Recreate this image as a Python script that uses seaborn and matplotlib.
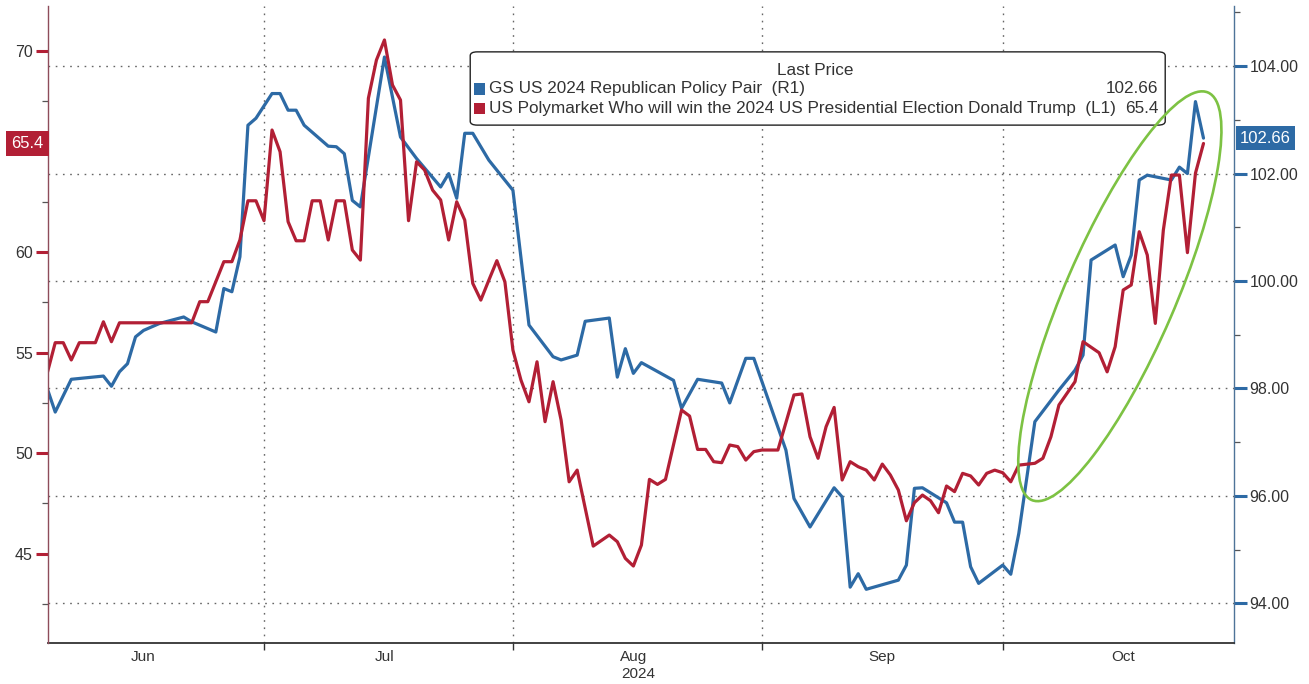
import numpy as np
import pandas as pd
import matplotlib
matplotlib.use("Agg")
import matplotlib.pyplot as plt
import matplotlib.dates as mdates
import matplotlib.transforms as mtransforms
from matplotlib.patches import Ellipse, FancyBboxPatch, Rectangle
import seaborn as sns

sns.set_theme(style="white")
plt.rcParams['font.family'] = ['Liberation Sans', 'DejaVu Sans']

# ---------------- data ----------------
gs_dates = ["06-04", "06-05", "06-07", "06-11", "06-12", "06-13", "06-14", "06-15", "06-16", "06-18",
            "06-21", "06-22", "06-25", "06-26", "06-27", "06-28", "06-29", "06-30", "07-02", "07-03",
            "07-04", "07-05", "07-06", "07-09", "07-10", "07-11", "07-12", "07-13", "07-16", "07-18",
            "07-20", "07-23", "07-24", "07-25", "07-26", "07-27", "07-29", "08-01", "08-03", "08-06",
            "08-07", "08-09", "08-10", "08-13", "08-14", "08-15", "08-16", "08-17", "08-21", "08-22",
            "08-24", "08-27", "08-28", "08-30", "08-31", "09-04", "09-05", "09-07", "09-10", "09-11",
            "09-12", "09-13", "09-14", "09-18", "09-19", "09-20", "09-21", "09-24", "09-25", "09-26",
            "09-27", "09-28", "10-01", "10-02", "10-03", "10-05", "10-08", "10-10", "10-11", "10-12",
            "10-15", "10-16", "10-17", "10-18", "10-19", "10-22", "10-23", "10-24", "10-25", "10-26"]
gs_values = [98.00, 97.56, 98.17, 98.23, 98.04, 98.31, 98.46, 98.96, 99.08, 99.21,
             99.33, 99.24, 99.05, 99.86, 99.80, 100.45, 102.90, 103.03, 103.49, 103.49,
             103.18, 103.18, 102.90, 102.51, 102.50, 102.37, 101.50, 101.38, 104.17, 102.68,
             102.28, 101.75, 102.00, 101.54, 102.75, 102.75, 102.25, 101.69, 99.18, 98.59,
             98.53, 98.62, 99.25, 99.31, 98.21, 98.74, 98.28, 98.48, 98.15, 97.63,
             98.17, 98.10, 97.73, 98.56, 98.56, 96.85, 95.95, 95.42, 96.15, 95.98,
             94.30, 94.55, 94.26, 94.43, 94.71, 96.14, 96.15, 95.87, 95.51, 95.51,
             94.68, 94.37, 94.71, 94.54, 95.30, 97.38, 97.97, 98.34, 98.62, 100.39,
             100.67, 100.08, 100.48, 101.88, 101.97, 101.88, 102.12, 102.00, 103.34, 102.66]

poly_dates = ["06-04", "06-05", "06-06", "06-07", "06-08", "06-10", "06-11", "06-12", "06-13", "06-22",
              "06-23", "06-24", "06-26", "06-27", "06-28", "06-29", "06-30", "07-01", "07-02", "07-03",
              "07-04", "07-05", "07-06", "07-07", "07-08", "07-09", "07-10", "07-11", "07-12", "07-13",
              "07-14", "07-15", "07-16", "07-17", "07-18", "07-19", "07-20", "07-21", "07-22", "07-23",
              "07-24", "07-25", "07-26", "07-27", "07-28", "07-29", "07-30", "07-31", "08-01", "08-02",
              "08-03", "08-04", "08-05", "08-06", "08-07", "08-08", "08-09", "08-11", "08-13", "08-14",
              "08-15", "08-16", "08-17", "08-18", "08-19", "08-20", "08-22", "08-23", "08-24", "08-25",
              "08-26", "08-27", "08-28", "08-29", "08-30", "08-31", "09-01", "09-03", "09-05", "09-06",
              "09-07", "09-08", "09-09", "09-10", "09-11", "09-12", "09-13", "09-14", "09-15", "09-16",
              "09-17", "09-18", "09-19", "09-20", "09-21", "09-22", "09-23", "09-24", "09-25", "09-26",
              "09-27", "09-28", "09-29", "09-30", "10-01", "10-02", "10-03", "10-05", "10-06", "10-07",
              "10-08", "10-10", "10-11", "10-13", "10-14", "10-15", "10-16", "10-17", "10-18", "10-19",
              "10-20", "10-21", "10-22", "10-23", "10-24", "10-25", "10-26"]
poly_values = [53.97, 55.49, 55.49, 54.63, 55.49, 55.49, 56.53, 55.54, 56.48, 56.48,
               57.53, 57.53, 59.52, 59.52, 60.60, 62.55, 62.55, 61.56, 66.07, 64.99,
               61.51, 60.56, 60.56, 62.55, 62.55, 60.60, 62.55, 62.55, 60.10, 59.60,
               67.65, 69.55, 70.55, 68.31, 67.56, 61.56, 64.49, 64.08, 63.08, 62.59,
               60.60, 62.50, 61.59, 58.44, 57.61, 58.60, 59.57, 58.52, 55.12, 53.63,
               52.55, 54.54, 51.56, 53.55, 51.64, 48.57, 49.15, 45.37, 45.92, 45.59,
               44.76, 44.38, 45.42, 48.69, 48.44, 48.69, 52.14, 51.84, 50.18, 50.18,
               49.57, 49.52, 50.40, 50.32, 49.65, 50.07, 50.15, 50.15, 52.89, 52.94,
               50.81, 49.74, 51.31, 52.27, 48.66, 49.57, 49.32, 49.15, 48.66, 49.45,
               48.91, 48.16, 46.63, 47.53, 47.91, 47.63, 47.03, 48.36, 48.08, 48.99,
               48.86, 48.41, 48.99, 49.15, 49.02, 48.57, 49.40, 49.49, 49.74, 50.81,
               52.39, 53.55, 55.54, 54.99, 54.04, 55.29, 58.11, 58.36, 61.01, 59.85,
               56.45, 61.09, 63.83, 63.83, 59.97, 63.92, 65.40]

gs_label = "GS US 2024 Republican Policy Pair  (R1)"
poly_label = "US Polymarket Who will win the 2024 US Presidential Election Donald Trump  (L1)"
gs_last = "102.66"
poly_last = "65.4"

left_ticks = [45, 50, 55, 60, 65, 70]
left_ticklabels = ["45", "50", "55", "60", "", "70"]   # "65" is hidden under the last-value tag
right_ticks = [94, 96, 98, 100, 102, 104]

BLUE = "#2d6aa5"
RED = "#b21f35"
GREEN = "#7dc243"
TXT = "#333333"

gs_x = pd.to_datetime(["2024-" + d for d in gs_dates])
poly_x = pd.to_datetime(["2024-" + d for d in poly_dates])

# ---------------- figure ----------------
W, H = 1309, 684
fig = plt.figure(figsize=(W / 100, H / 100), dpi=100)
fig.patch.set_facecolor("white")
ax = fig.add_axes([48 / W, 41 / H, 1186 / W, 637 / H])   # blue, right axis
ax_l = ax.twinx()                                           # red, left axis

sns.lineplot(x=gs_x, y=gs_values, ax=ax, color=BLUE, linewidth=2.3, legend=False)
sns.lineplot(x=poly_x, y=poly_values, ax=ax_l, color=RED, linewidth=2.3, legend=False)

# limits
t0 = pd.Timestamp("2024-07-01")
ax.set_xlim(t0 - pd.Timedelta(days=26.9), t0 + pd.Timedelta(days=120.8))
ax.set_ylim(93.26, 105.12)
ax_l.set_ylim(40.55, 72.24)

# right axis (blue)
ax.yaxis.tick_right()
ax.yaxis.set_label_position("right")
ax.set_yticks(right_ticks)
ax.set_yticklabels([f"{v:.2f}" for v in right_ticks])
ax.set_yticks([95, 97, 99, 101, 103, 105], minor=True)
ax.tick_params(axis="y", which="major", right=True, left=False, length=9, width=2.2,
               color=BLUE, labelsize=11.5, labelcolor=TXT, pad=2)
ax.tick_params(axis="y", which="minor", right=True, left=False, length=4, width=0.9, color="#555")
ax.set_ylabel("")
ax.set_xlabel("")

# left axis (red)
ax_l.yaxis.tick_left()
ax_l.yaxis.set_label_position("left")
ax_l.set_yticks(left_ticks)
ax_l.set_yticklabels(left_ticklabels)
ax_l.set_yticks([42.5, 47.5, 52.5, 57.5, 62.5, 67.5], minor=True)
ax_l.tick_params(axis="y", which="major", left=True, right=False, length=9, width=2.2,
                 color=RED, labelsize=11.5, labelcolor=TXT, pad=2)
ax_l.tick_params(axis="y", which="minor", left=True, right=False, length=4, width=0.9, color="#555")
ax_l.set_ylabel("")

# x axis: month boundaries as major ticks, month names centred mid-month
ax.xaxis.set_major_locator(mdates.MonthLocator(bymonthday=1))
ax.xaxis.set_minor_locator(mdates.MonthLocator(bymonthday=16))
ax.xaxis.set_major_formatter(plt.NullFormatter())
ax.xaxis.set_minor_formatter(mdates.DateFormatter("%b"))
ax.tick_params(axis="x", which="major", bottom=True, length=5, width=1.0, color="#333")
ax.tick_params(axis="x", which="minor", bottom=True, length=0, labelsize=11, labelcolor=TXT, pad=5)
ax_l.tick_params(axis="x", which="both", bottom=False, labelbottom=False)

# grids
ax.grid(axis="y", which="major", linestyle=(0, (1.2, 4)), color="#666", linewidth=1.0)
ax.grid(axis="x", which="major", linestyle=(0, (1.2, 4)), color="#666", linewidth=1.0)
ax.set_axisbelow(True)

# spines
for s in ["top", "left"]:
    ax.spines[s].set_visible(False)
ax.spines["right"].set_color("#4d7398")
ax.spines["right"].set_linewidth(1.0)
ax.spines["bottom"].set_color("#333")
ax.spines["bottom"].set_linewidth(1.3)
for s in ["top", "right", "bottom"]:
    ax_l.spines[s].set_visible(False)
ax_l.spines["left"].set_color("#8e4c5a")
ax_l.spines["left"].set_linewidth(1.0)

# last value tags
bl = mtransforms.blended_transform_factory(ax_l.transAxes, ax_l.transData)
ax_l.text(-0.004, poly_values[-1], poly_last, transform=bl, ha="right", va="center",
          color="white", fontsize=12, zorder=20, clip_on=False,
          bbox=dict(boxstyle="square,pad=0.32", fc=RED, ec="none"))
br = mtransforms.blended_transform_factory(ax.transAxes, ax.transData)
ax.text(1.005, gs_values[-1], gs_last, transform=br, ha="left", va="center",
        color="white", fontsize=12, zorder=20, clip_on=False,
        bbox=dict(boxstyle="square,pad=0.25", fc=BLUE, ec="none"))

# legend box
lx0, ly0, lw, lh = 0.356, 0.813, 0.586, 0.115
ax_l.add_patch(FancyBboxPatch((lx0, ly0), lw, lh, boxstyle="round,pad=0,rounding_size=0.006",
                              transform=ax_l.transAxes, fc="white", ec="#222", lw=1.0, zorder=30))
ax_l.text(0.647, 0.899, "Last Price", transform=ax_l.transAxes, ha="center", va="center",
          fontsize=12.3, color=TXT, zorder=31)
for yy, col, lab, val in [(0.870, BLUE, gs_label, gs_last), (0.839, RED, poly_label, poly_last)]:
    ax_l.add_patch(Rectangle((0.3595, yy - 0.009), 0.0093, 0.018, transform=ax_l.transAxes,
                             fc=col, ec="none", zorder=31))
    ax_l.text(0.3715, yy, lab, transform=ax_l.transAxes, ha="left", va="center",
              fontsize=12.3, color=TXT, zorder=31)
    ax_l.text(0.936, yy, val, transform=ax_l.transAxes, ha="right", va="center",
              fontsize=12.3, color=TXT, zorder=31)

# green ellipse highlighting the October rally
fig.canvas.draw()
c_num = mdates.date2num(pd.Timestamp("2024-10-15 14:00"))
cx, cy = ax_l.transData.transform((c_num, 57.8))
ell = Ellipse((cx, cy), width=444, height=110, angle=66.6, fill=False, ec=GREEN, lw=1.9,
              transform=mtransforms.IdentityTransform(), zorder=40)
fig.add_artist(ell)

# year label
fig.text(638 / W, 1 - 674 / H, "2024", ha="center", va="center", fontsize=11, color=TXT)

fig.savefig("out.png", dpi=100, facecolor="white")
